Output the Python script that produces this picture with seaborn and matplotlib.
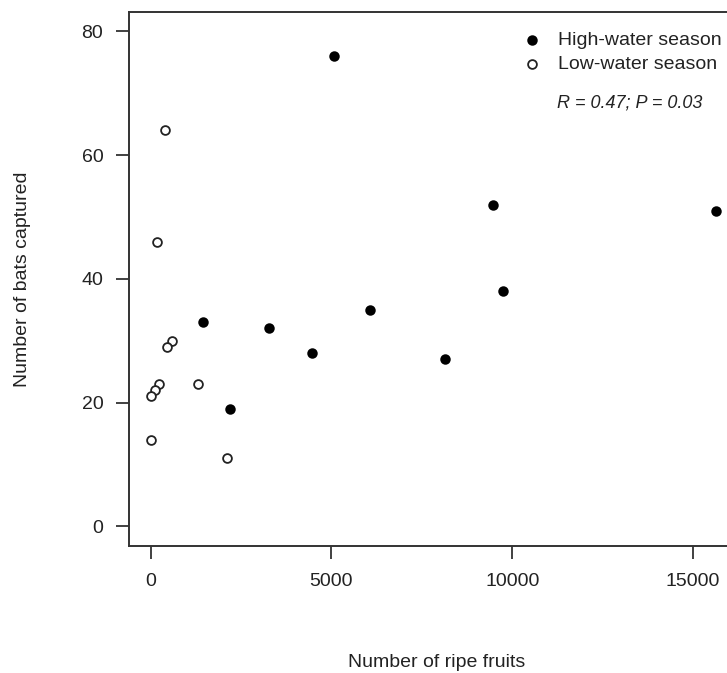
import numpy as np
import pandas as pd
import matplotlib
matplotlib.use("Agg")
import matplotlib.pyplot as plt
import seaborn as sns

# high-water season points (ripe fruits, bats captured)
high_fruits = [5070, 1455, 3264, 2193, 9460, 9745, 15636, 8149, 4462, 6058]
high_bats = [76, 33, 32, 19, 52, 38, 51, 27, 28, 35]

# low-water season points
low_fruits = [387, 175, 589, 451, 239, 110, 0, 1300, 0, 2110]
low_bats = [64, 46, 30, 29, 23, 22, 21, 23, 14, 11]

x_ticks = [0, 5000, 10000, 15000]
y_ticks = [0, 20, 40, 60, 80]

sns.set_theme(style="ticks")
plt.rcParams['font.family'] = ['Liberation Sans', 'DejaVu Sans']

df = pd.DataFrame({
    "fruits": high_fruits + low_fruits,
    "bats": high_bats + low_bats,
    "season": ["High-water season"] * len(high_fruits) + ["Low-water season"] * len(low_fruits),
})

fig = plt.figure(figsize=(7.27, 6.73), dpi=100)
ax = fig.add_axes([0.1774, 0.1887, 0.8454, 0.7939])

high = df[df["season"] == "High-water season"]
low = df[df["season"] == "Low-water season"]
sns.scatterplot(data=high, x="fruits", y="bats", ax=ax, color="black",
                edgecolor="black", s=40, linewidth=1.2, label="High-water season")
sns.scatterplot(data=low, x="fruits", y="bats", ax=ax, color="white",
                edgecolor="#222222", s=40, linewidth=1.3, label="Low-water season")

ax.set_xlim(-600, 16400)
ax.set_ylim(-3.2, 83.2)
ax.set_xticks(x_ticks)
ax.set_yticks(y_ticks)

for side in ["left", "bottom", "top", "right"]:
    ax.spines[side].set_color("#333333")
    ax.spines[side].set_linewidth(1.4)
ax.tick_params(axis="both", length=9.5, width=1.3, color="#333333",
               labelsize=14, labelcolor="#222222")
ax.tick_params(axis="x", pad=10)
ax.tick_params(axis="y", pad=9)

ax.set_xlabel("Number of ripe fruits", fontsize=14, color="#222222", labelpad=46)
ax.set_ylabel("Number of bats captured", fontsize=14, color="#222222", labelpad=36)

ax.legend(loc="upper left", bbox_to_anchor=(0.628, 0.978), frameon=False,
          fontsize=14, handletextpad=0.8, borderaxespad=0, labelspacing=0.35,
          handlelength=1.0, labelcolor="#222222")

ax.text(0.696, 0.830, "R = 0.47; P = 0.03", transform=ax.transAxes,
        fontsize=13, style="italic", color="#222222", va="center", ha="left")

fig.savefig("out.png", dpi=100)
